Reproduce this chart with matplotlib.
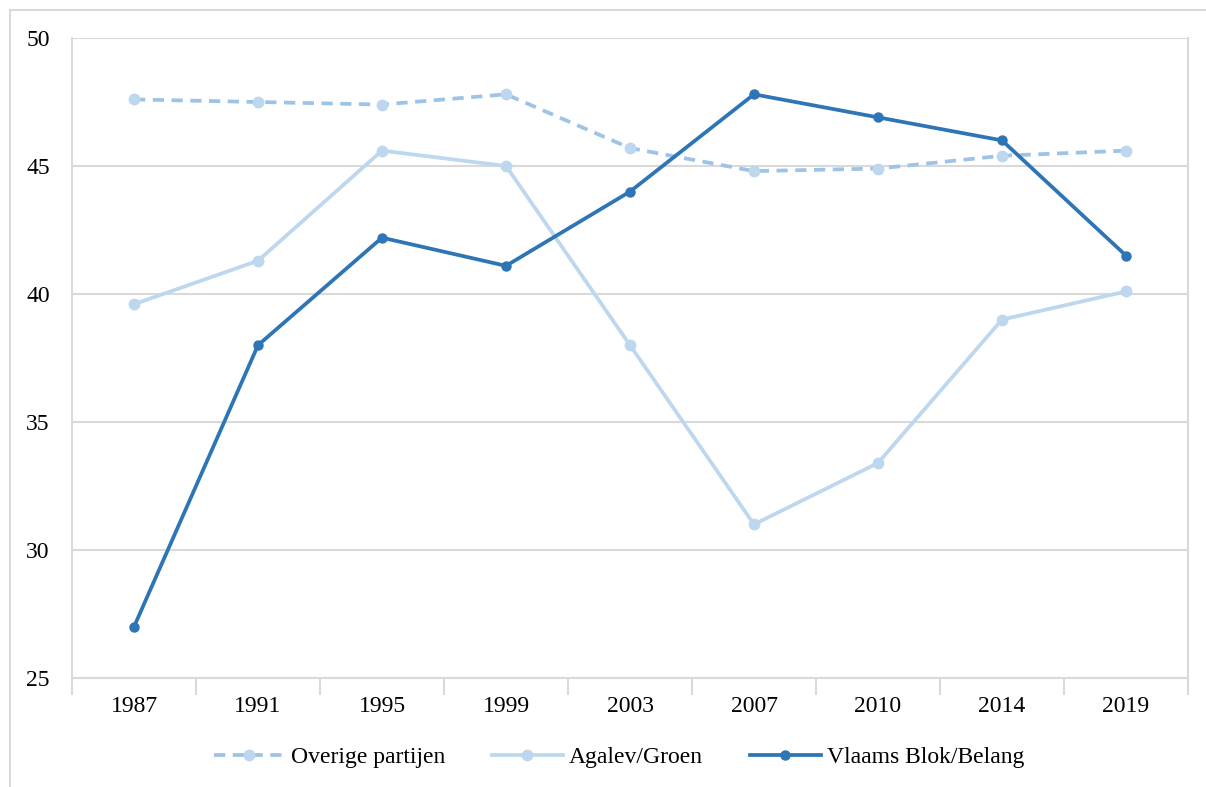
import numpy as np
import matplotlib.pyplot as plt
from matplotlib.patches import Rectangle

# data
jaren = ['1987', '1991', '1995', '1999', '2003', '2007', '2010', '2014', '2019']
overige = [47.6, 47.5, 47.4, 47.8, 45.7, 44.8, 44.9, 45.4, 45.6]
agalev = [39.6, 41.3, 45.6, 45.0, 38.0, 31.0, 33.4, 39.0, 40.1]
vlaams = [27.0, 38.0, 42.2, 41.1, 44.0, 47.8, 46.9, 46.0, 41.5]

plt.rcParams['font.family'] = ['Liberation Serif', 'DejaVu Serif']

W, H = 1206, 787
fig = plt.figure(figsize=(W / 100, H / 100), dpi=100)
ax = fig.add_axes([72 / W, 1 - 678 / H, (1188 - 72) / W, (678 - 38) / H])

# frame around the whole chart
fig.patches.append(Rectangle((10 / W, -0.01), 1.0, 1 - 10 / H + 0.01,
                             transform=fig.transFigure, fill=False,
                             edgecolor='#d9d9d9', linewidth=1.5))

x = np.arange(len(jaren))
ax.plot(x, overige, color='#9dc3e6', linewidth=2.7, linestyle=(0, (3, 2)),
        marker='o', markersize=7.5, markerfacecolor='#bdd7ee',
        markeredgecolor='#bdd7ee', label='Overige partijen', zorder=3)
ax.plot(x, agalev, color='#bdd7ee', linewidth=2.7,
        marker='o', markersize=7.5, markerfacecolor='#bdd7ee',
        markeredgecolor='#bdd7ee', label='Agalev/Groen', zorder=3)
ax.plot(x, vlaams, color='#2e75b6', linewidth=2.7,
        marker='o', markersize=6.5, markerfacecolor='#2e75b6',
        markeredgecolor='#2e75b6', label='Vlaams Blok/Belang', zorder=4)

ax.set_xlim(-0.5, len(jaren) - 0.5)
ax.set_ylim(25, 50)
ax.set_yticks(np.arange(25, 51, 5))
ax.set_xticks(x)
ax.set_xticklabels(jaren)
ax.set_xticks(np.arange(-0.5, len(jaren), 1), minor=True)

ax.grid(axis='y', color='#d9d9d9', linewidth=1.5)
ax.set_axisbelow(True)
for s in ['left', 'right', 'bottom']:
    ax.spines[s].set_color('#d9d9d9')
    ax.spines[s].set_linewidth(1.5)
ax.spines['top'].set_visible(False)

ax.tick_params(axis='y', length=0, labelsize=17, pad=16)
ax.tick_params(axis='x', which='major', length=0, labelsize=17, pad=13)
ax.tick_params(axis='x', which='minor', length=12, width=1.5, color='#d9d9d9')

leg = ax.legend(loc='center', bbox_to_anchor=(0.5 - 11 / 1116, -79 / 640),
                ncol=3, frameon=False, fontsize=17, handlelength=3,
                columnspacing=2.0, handletextpad=0.25)

fig.savefig('out.png', dpi=100)
